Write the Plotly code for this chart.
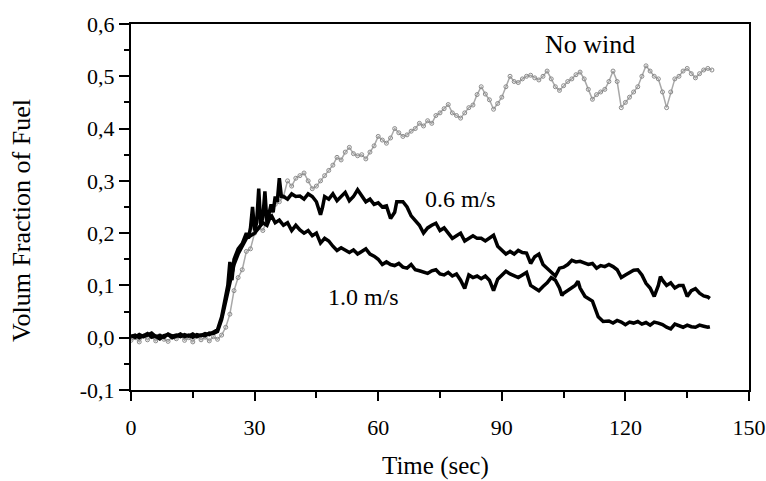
import plotly.graph_objects as go

# ---------------- data ----------------
time_nowind = list(range(0, 142))
frac_nowind = [
    -0.005, 0.0, -0.008, 0.003, -0.004, 0.002, -0.006, 0.004, -0.003, -0.007,
    0.002, -0.002, 0.005, -0.005, 0.0, -0.008, 0.003, -0.004, 0.001, -0.006,
    0.002, -0.003,
    0.005, 0.02, 0.045, 0.09, 0.115, 0.13, 0.165, 0.17, 0.2, 0.21,
    0.205, 0.225, 0.24, 0.255, 0.26, 0.27, 0.3, 0.29, 0.305, 0.31,
    0.315, 0.3, 0.285, 0.29, 0.3, 0.31, 0.32, 0.33, 0.345, 0.34,
    0.355, 0.364, 0.352, 0.348, 0.35, 0.342, 0.355, 0.367, 0.385, 0.378,
    0.372, 0.382, 0.4, 0.392, 0.385, 0.388, 0.395, 0.4, 0.41, 0.405,
    0.415, 0.41, 0.425, 0.43, 0.438, 0.446, 0.43, 0.425, 0.42, 0.43,
    0.44, 0.445, 0.465, 0.48, 0.466, 0.455, 0.437, 0.448, 0.46, 0.48,
    0.5, 0.49, 0.488, 0.495, 0.5, 0.502, 0.497, 0.493, 0.5, 0.51,
    0.495, 0.48, 0.473, 0.482, 0.49, 0.495, 0.503, 0.508, 0.495, 0.475,
    0.456, 0.465, 0.47, 0.475, 0.49, 0.51, 0.49, 0.44, 0.45, 0.46,
    0.47, 0.48, 0.5, 0.52, 0.51, 0.5, 0.495, 0.47, 0.44, 0.47,
    0.495, 0.5, 0.51, 0.515, 0.505, 0.497, 0.505, 0.512, 0.515, 0.512,
]

time_06 = (list(range(0, 21)) +
           [21, 22, 23, 23.5, 24, 24.5, 25, 25.5, 26, 27, 27.5, 28, 28.5, 29,
            29.5, 30, 30.5, 31, 31.5, 32, 32.5, 33, 34, 34.5, 35, 35.5, 36, 36.5] +
           list(range(37, 47)) + [46.5] + list(range(47, 65)) + [64.5] +
           list(range(66, 129)) + [128.5] + list(range(129, 141)) + [140.5])
frac_06 = [
    0.002, 0.005, 0.0, 0.004, 0.008, 0.001, 0.003, -0.002, 0.004, 0.006,
    0.0, 0.003, 0.007, 0.002, 0.005, 0.001, 0.006, 0.004, 0.008, 0.006, 0.01,
    0.015, 0.04, 0.08, 0.1, 0.145, 0.11, 0.15, 0.16, 0.17, 0.18,
    0.19, 0.2, 0.19, 0.21, 0.25, 0.205, 0.22, 0.285, 0.215, 0.23,
    0.28, 0.22, 0.255, 0.24, 0.27, 0.26, 0.305, 0.27,
    0.27, 0.265, 0.275, 0.27, 0.271, 0.265, 0.275, 0.27, 0.26, 0.235,
    0.25,
    0.27, 0.265, 0.275, 0.262, 0.27, 0.278, 0.262, 0.27, 0.283, 0.27,
    0.26, 0.265, 0.255, 0.258, 0.25, 0.252, 0.228, 0.24,
    0.26,
    0.26, 0.25, 0.233, 0.225, 0.215, 0.2, 0.21, 0.215, 0.219, 0.205,
    0.21, 0.2, 0.19, 0.195, 0.2, 0.185, 0.19, 0.195, 0.19, 0.19,
    0.185, 0.19, 0.196, 0.175, 0.167, 0.16, 0.165, 0.16, 0.167, 0.163,
    0.162, 0.142, 0.155, 0.16, 0.14, 0.133, 0.127, 0.118, 0.133, 0.135,
    0.14, 0.148, 0.145, 0.146, 0.143, 0.14, 0.142, 0.133, 0.138, 0.136,
    0.14, 0.136, 0.13, 0.115, 0.12, 0.125, 0.129, 0.13, 0.12, 0.104,
    0.095, 0.079, 0.1,
    0.117,
    0.11, 0.1, 0.105, 0.095, 0.1, 0.1, 0.079, 0.09, 0.094, 0.085, 0.08, 0.078,
    0.075,
]

time_10 = (list(range(0, 103)) +
           [103, 104, 104.6, 105, 106, 107, 107.8, 108.5, 109, 110.2, 111, 112,
            113.4, 114.6] + list(range(116, 141)) + [140.5])
frac_10 = [
    0.004, 0.001, 0.006, 0.002, 0.005, 0.009, 0.002, 0.004, 0.001, 0.007,
    0.003, 0.005, 0.002, 0.006, 0.003, 0.007, 0.002, 0.005, 0.004, 0.009, 0.008,
    0.012, 0.035, 0.07, 0.11, 0.14, 0.16, 0.175, 0.19, 0.195, 0.2,
    0.21, 0.22, 0.215, 0.235, 0.22, 0.225, 0.215, 0.22, 0.205, 0.215,
    0.206, 0.2, 0.205, 0.195, 0.2, 0.181, 0.19, 0.185, 0.175, 0.167,
    0.172, 0.168, 0.163, 0.168, 0.16, 0.165, 0.17, 0.16, 0.156, 0.15,
    0.14, 0.145, 0.14, 0.138, 0.142, 0.135, 0.133, 0.14, 0.13, 0.128,
    0.125, 0.123, 0.128, 0.13, 0.122, 0.12, 0.125, 0.118, 0.122, 0.11,
    0.094, 0.12, 0.115, 0.118, 0.113, 0.118, 0.11, 0.09, 0.112, 0.12,
    0.127, 0.122, 0.118, 0.115, 0.12, 0.125, 0.1, 0.095, 0.09, 0.098,
    0.105, 0.115,
    0.11, 0.095, 0.081, 0.085, 0.09, 0.095, 0.1, 0.108, 0.095, 0.079,
    0.075, 0.07, 0.04, 0.031,
    0.032, 0.028, 0.033, 0.03, 0.025, 0.03, 0.028, 0.031, 0.026, 0.029,
    0.024, 0.03, 0.028, 0.025, 0.02, 0.017, 0.026, 0.023, 0.02, 0.024,
    0.021, 0.02, 0.024, 0.022, 0.02,
    0.021,
]

x_ticks = [0, 30, 60, 90, 120, 150]
y_ticks = [-0.1, 0.0, 0.1, 0.2, 0.3, 0.4, 0.5, 0.6]
y_tick_text = ["-0,1", "0,0", "0,1", "0,2", "0,3", "0,4", "0,5", "0,6"]

labels = ["No wind", "0.6 m/s", "1.0 m/s"]
label_x = [111.5, 80, 56.5]
label_y = [0.56, 0.266, 0.078]
label_size = [26, 24, 24]

# ---------------- figure ----------------
FONT = "Liberation Serif, Times New Roman, serif"
fig = go.Figure()

fig.add_trace(go.Scatter(
    x=time_nowind, y=frac_nowind, mode="lines+markers",
    line=dict(color="#a8a8a8", width=1.5),
    marker=dict(symbol="circle-open", size=4, color="#8a8a8a", line=dict(width=1)),
    name="No wind", showlegend=False))
fig.add_trace(go.Scatter(
    x=time_06, y=frac_06, mode="lines",
    line=dict(color="black", width=3.5), name="0.6 m/s", showlegend=False))
fig.add_trace(go.Scatter(
    x=time_10, y=frac_10, mode="lines",
    line=dict(color="black", width=3.5), name="1.0 m/s", showlegend=False))

for txt, lx, ly, ls in zip(labels, label_x, label_y, label_size):
    fig.add_annotation(x=lx, y=ly, xref="x", yref="y", text=txt, showarrow=False,
                       xanchor="center", yanchor="middle",
                       font=dict(family=FONT, size=ls, color="black"))

fig.add_annotation(x=0.4935, y=-0.2077, xref="paper", yref="paper", text="Time (sec)",
                   showarrow=False, xanchor="center", yanchor="middle",
                   font=dict(family=FONT, size=25, color="black"))
fig.add_annotation(x=-0.1764, y=0.4645, xref="paper", yref="paper",
                   text="Volum Fraction of Fuel", textangle=-90, showarrow=False,
                   xanchor="center", yanchor="middle",
                   font=dict(family=FONT, size=26, color="black"))

fig.update_xaxes(
    range=[0, 150], tickvals=x_ticks, ticks="outside", ticklen=9, tickwidth=2,
    tickcolor="black", showline=True, linecolor="black", linewidth=2, mirror=True,
    showgrid=False, zeroline=False, ticklabelstandoff=8, ticklabeloverflow="allow",
    tickfont=dict(family=FONT, size=22, color="black"),
    minor=dict(dtick=15, ticks="outside", ticklen=6, tickwidth=2, tickcolor="black",
               showgrid=False))
fig.update_yaxes(
    range=[-0.1, 0.6], tickvals=y_ticks, ticktext=y_tick_text, ticks="outside",
    ticklen=10, tickwidth=2, tickcolor="black", showline=True, linecolor="black",
    linewidth=2, mirror=True, showgrid=False, zeroline=False,
    tickfont=dict(family=FONT, size=22, color="black"),
    minor=dict(dtick=0.05, ticks="outside", ticklen=5, tickwidth=2,
               tickcolor="black", showgrid=False))

fig.update_layout(
    width=766, height=481, paper_bgcolor="white", plot_bgcolor="white",
    margin=dict(l=131, r=17, t=24, b=91, autoexpand=False), showlegend=False)

fig.write_html(
    "out.html",
    config={"displayModeBar": False},
    post_script="document.body.style.margin='0';document.body.style.overflow='hidden';")
